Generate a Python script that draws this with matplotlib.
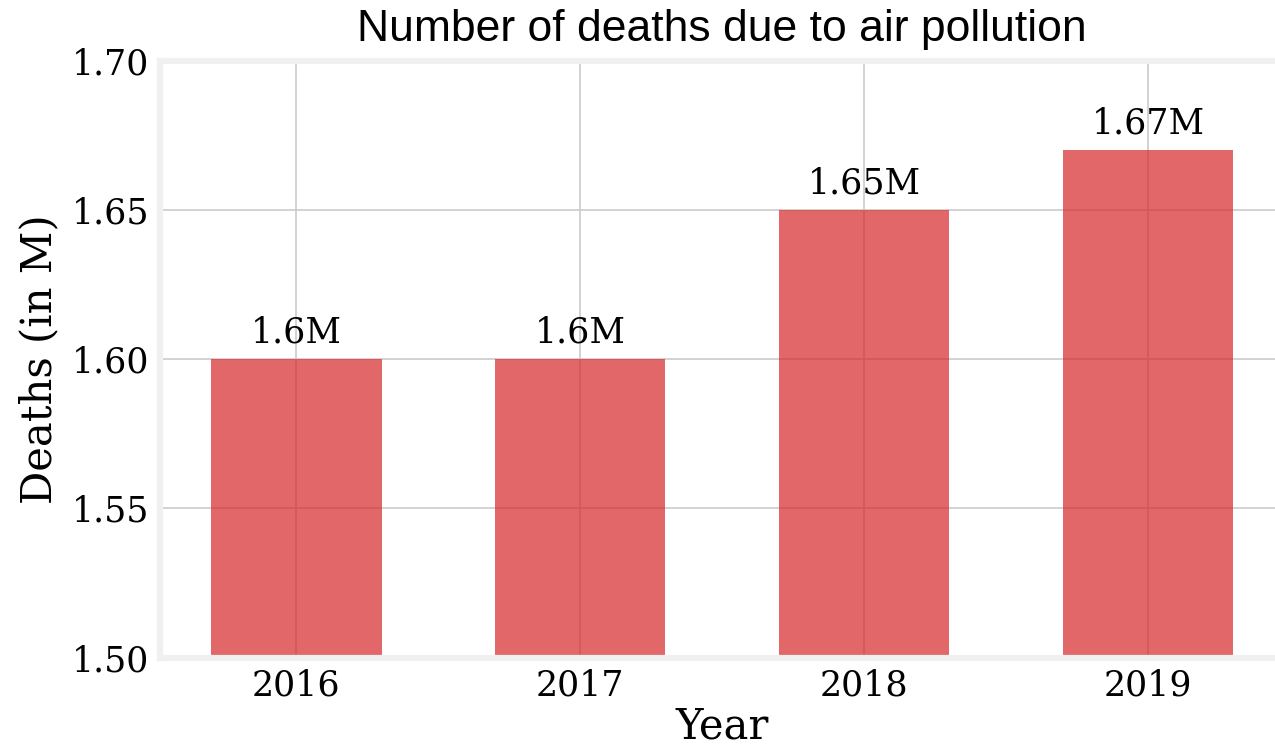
import matplotlib
matplotlib.use('Agg')
import matplotlib.pyplot as plt

years = ['2016', '2017', '2018', '2019']
deaths = [1.60, 1.60, 1.65, 1.67]
labels = ['1.6M', '1.6M', '1.65M', '1.67M']

plt.style.use('fivethirtyeight')
plt.rcParams['font.family'] = 'DejaVu Serif'

fig = plt.figure(figsize=(12.75, 7.49), dpi=100)
fig.patch.set_facecolor('white')
ax = fig.add_axes([0.1255, 0.122, 0.882, 0.797])
ax.set_facecolor('white')

x = range(len(years))
bars = ax.bar(x, deaths, width=0.6, color='tab:red', alpha=0.7)
for b, lab in zip(bars, labels):
    ax.annotate(lab, (b.get_x() + b.get_width() / 2, b.get_height()),
                xytext=(0, 7), textcoords='offset points',
                ha='center', va='bottom', fontsize=25)

ax.set_xticks(list(x))
ax.set_xticklabels(years)
ax.set_xlim(-0.48, 3.48)
ax.set_ylim(1.5, 1.7)
ax.set_yticks([1.50, 1.55, 1.60, 1.65, 1.70])
ax.set_yticklabels(['1.50', '1.55', '1.60', '1.65', '1.70'])
ax.tick_params(labelsize=25, pad=8, length=0)

for s in ax.spines.values():
    s.set_visible(True)
    s.set_color('#f0f0f0')
    s.set_linewidth(4.5)

ax.grid(True, color='#cbcbcb', linewidth=1.2)
ax.set_xlabel('Year', fontsize=30, labelpad=2)
ax.set_ylabel('Deaths (in M)', fontsize=30, labelpad=8)
ax.set_title('Number of deaths due to air pollution', fontsize=32,
             family='Liberation Sans', pad=14)

fig.savefig('out.png', dpi=100)
